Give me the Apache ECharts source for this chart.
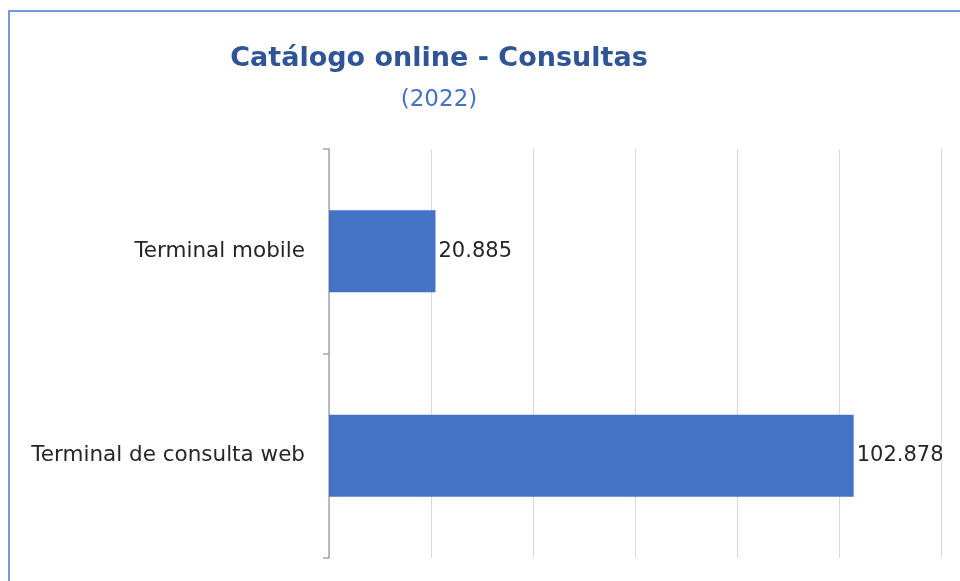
<!DOCTYPE html>
<html><head><meta charset="utf-8">
<script src="https://cdn.jsdelivr.net/npm/echarts@6/dist/echarts.min.js"></script>
<style>html,body{margin:0;padding:0;background:#fff}#c{width:960px;height:581px}</style>
</head><body><div id="c"></div>
<script>
const titleText = 'Catálogo online - Consultas';
const subtitleText = '(2022)';
const categories = ['Terminal mobile', 'Terminal de consulta web'];
const values = [20885, 102878];
const axisMax = 120000;
const axisStep = 20000;

function fmt(v){ return String(v).replace(/\B(?=(\d{3})+(?!\d))/g, '.'); }

const chart = echarts.init(document.getElementById('c'));
chart.setOption({
  animation: false,
  backgroundColor: '#fff',
  title: {
    text: titleText, subtext: subtitleText,
    left: 434, top: 40, textAlign: 'center', itemGap: 17,
    textStyle: {fontFamily: 'DejaVu Sans', fontWeight: 'bold', fontSize: 27, color: '#2F5597'},
    subtextStyle: {fontFamily: 'DejaVu Sans', fontSize: 23, color: '#4472C4'}
  },
  graphic: [{type: 'rect', shape: {x: 9, y: 11, width: 1000, height: 1000},
    style: {fill: 'none', stroke: '#6E9AE0', lineWidth: 2}, silent: true}],
  grid: {left: 329, right: 19, top: 149, bottom: 23},
  xAxis: {type: 'value', min: 0, max: axisMax, interval: axisStep,
    axisLabel: {show: false}, axisLine: {show: false}, axisTick: {show: false},
    splitLine: {lineStyle: {color: '#D9D9D9', width: 1}}},
  yAxis: {type: 'category', data: categories, inverse: true,
    axisLine: {lineStyle: {color: '#A6A6A6', width: 1.5}},
    axisTick: {show: true, length: 6, lineStyle: {color: '#A6A6A6', width: 1.5}},
    axisLabel: {margin: 24, fontFamily: 'DejaVu Sans', fontSize: 21.5, color: '#262626'}},
  series: [{type: 'bar', data: values, barWidth: '40%',
    itemStyle: {color: '#4472C4'},
    label: {show: true, position: 'right', distance: 3, fontFamily: 'DejaVu Sans', fontSize: 21, color: '#262626',
      formatter: p => fmt(p.value)}}]
});
</script></body></html>
